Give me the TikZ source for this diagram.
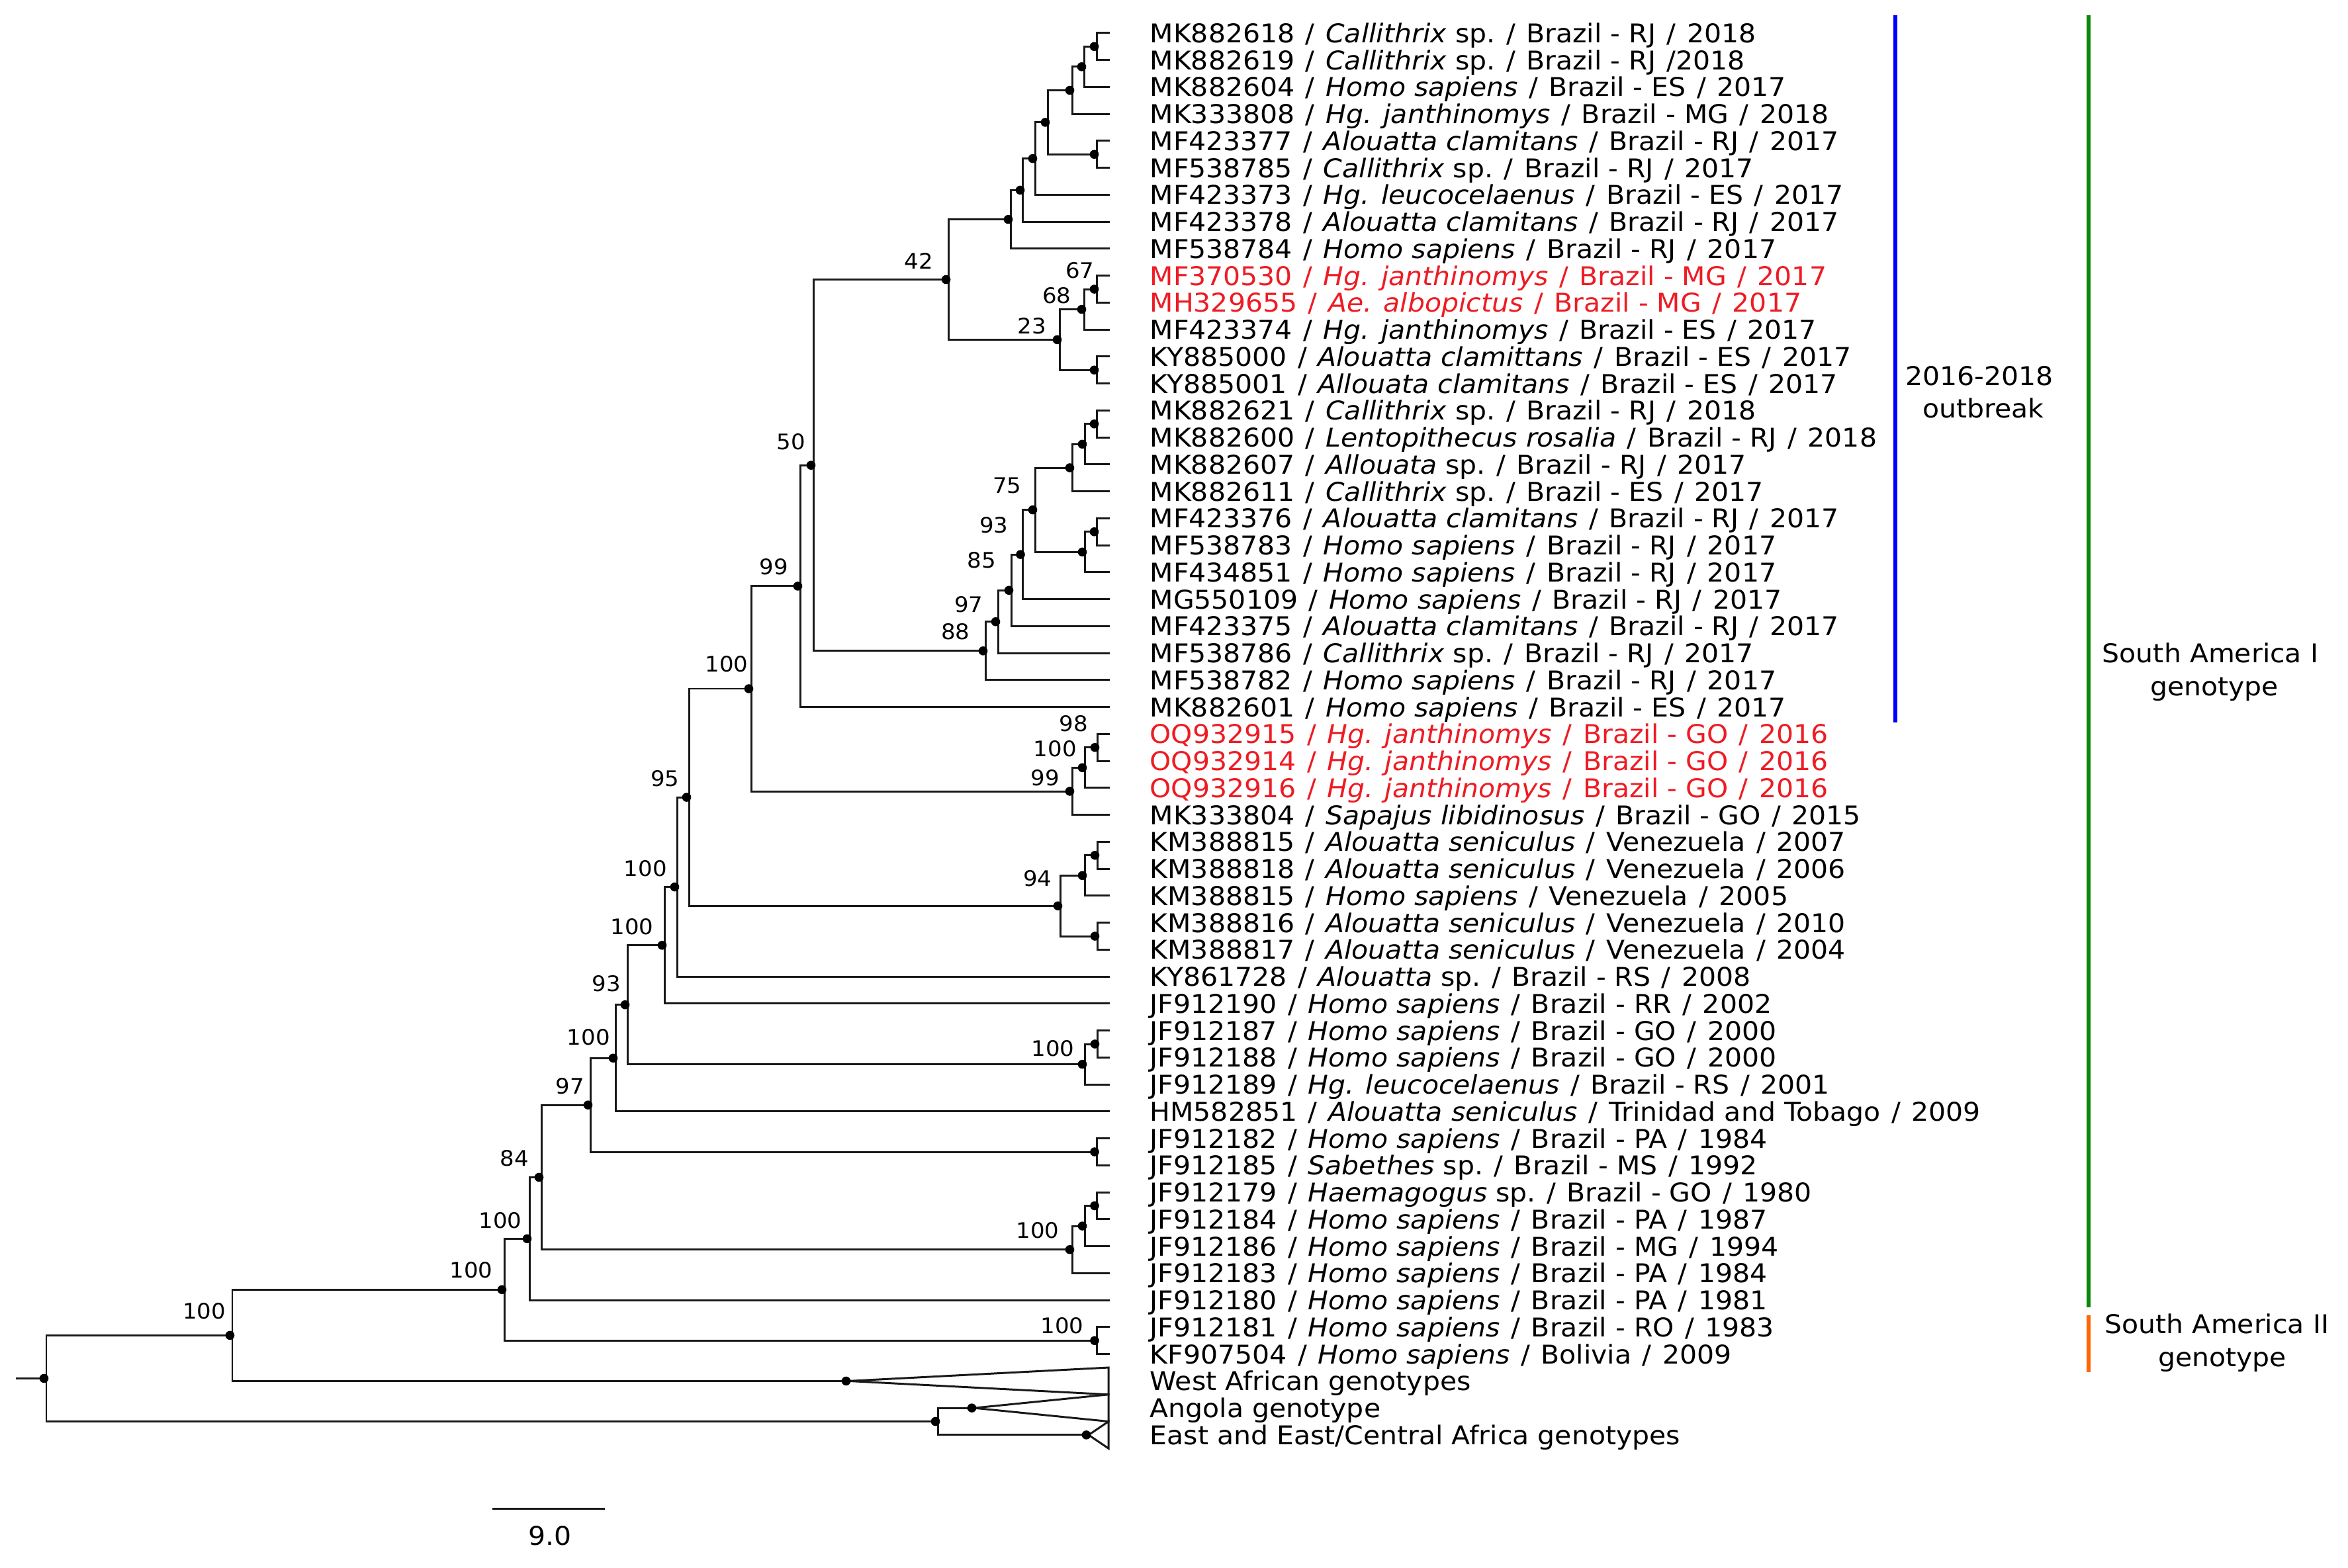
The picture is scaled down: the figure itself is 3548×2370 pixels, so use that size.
\documentclass[tikz,border=0pt]{standalone}
\usepackage{fontspec}
\setmainfont{DejaVu Sans}[FakeStretch=1.05]
\definecolor{ylred}{RGB}{237,28,36}
\definecolor{ylblue}{RGB}{0,0,255}
\definecolor{ylgreen}{RGB}{10,135,10}
\definecolor{ylorange}{RGB}{255,102,0}
\newcommand\leaffont{\fontsize{11.1pt}{13pt}\selectfont}
\newcommand\bootfont{\fontsize{9.2pt}{11pt}\selectfont}
\newcommand\ysep{\hspace{4.7pt}/\hspace{4.7pt}}
\tikzset{
  branch/.style={line width=0.85pt, black!90, line cap=rect},
  leaf/.style={anchor=base west, font=\leaffont, inner sep=0pt},
  boot/.style={anchor=center, font=\bootfont, inner sep=0pt},
  anno/.style={anchor=base, font=\leaffont, inner sep=0pt},
  redtxt/.style={text=ylred},
  cladebar/.style={line width=1.5pt}
}
\newcommand\tleaf[3][]{%
  \coordinate (t#2) at (1675,{50+(#2-1)*40.8});
  \node[leaf,#1] (L#2) at (1737,{64.5+(#2-1)*40.8}) {#3};}
\newcommand\tedge[2]{\draw[branch] (#1) |- (#2);}
\begin{document}
\begin{tikzpicture}[x=0.01cm,y=-0.01cm]
\useasboundingbox (0,0) rectangle (3548,2370);
\begin{scope}[yscale=0.998775]
% leaves
\tleaf{1}{MK882618\ysep\textit{Callithrix} sp.\ysep Brazil - RJ\ysep 2018}
\tleaf{2}{MK882619\ysep\textit{Callithrix} sp.\ysep Brazil - RJ\hspace{4.7pt}/2018}
\tleaf{3}{MK882604\ysep\textit{Homo sapiens}\ysep Brazil - ES\ysep 2017}
\tleaf{4}{MK333808\ysep\textit{Hg. janthinomys}\ysep Brazil - MG\ysep 2018}
\tleaf{5}{MF423377\ysep\textit{Alouatta clamitans}\ysep Brazil - RJ\ysep 2017}
\tleaf{6}{MF538785\ysep\textit{Callithrix} sp.\ysep Brazil - RJ\ysep 2017}
\tleaf{7}{MF423373\ysep\textit{Hg. leucocelaenus}\ysep Brazil - ES\ysep 2017}
\tleaf{8}{MF423378\ysep\textit{Alouatta clamitans}\ysep Brazil - RJ\ysep 2017}
\tleaf{9}{MF538784\ysep\textit{Homo sapiens}\ysep Brazil - RJ\ysep 2017}
\tleaf[redtxt]{10}{MF370530\ysep\textit{Hg. janthinomys}\ysep Brazil - MG\ysep 2017}
\tleaf[redtxt]{11}{MH329655\ysep\textit{Ae. albopictus}\ysep Brazil - MG\ysep 2017}
\tleaf{12}{MF423374\ysep\textit{Hg. janthinomys}\ysep Brazil - ES\ysep 2017}
\tleaf{13}{KY885000\ysep\textit{Alouatta clamittans}\ysep Brazil - ES\ysep 2017}
\tleaf{14}{KY885001\ysep\textit{Allouata clamitans}\ysep Brazil - ES\ysep 2017}
\tleaf{15}{MK882621\ysep\textit{Callithrix} sp.\ysep Brazil - RJ\ysep 2018}
\tleaf{16}{MK882600\ysep\textit{Lentopithecus rosalia}\ysep Brazil - RJ\ysep 2018}
\tleaf{17}{MK882607\ysep\textit{Allouata} sp.\ysep Brazil - RJ\ysep 2017}
\tleaf{18}{MK882611\ysep\textit{Callithrix} sp.\ysep Brazil - ES\ysep 2017}
\tleaf{19}{MF423376\ysep\textit{Alouatta clamitans}\ysep Brazil - RJ\ysep 2017}
\tleaf{20}{MF538783\ysep\textit{Homo sapiens}\ysep Brazil - RJ\ysep 2017}
\tleaf{21}{MF434851\ysep\textit{Homo sapiens}\ysep Brazil - RJ\ysep 2017}
\tleaf{22}{MG550109\ysep\textit{Homo sapiens}\ysep Brazil - RJ\ysep 2017}
\tleaf{23}{MF423375\ysep\textit{Alouatta clamitans}\ysep Brazil - RJ\ysep 2017}
\tleaf{24}{MF538786\ysep\textit{Callithrix} sp.\ysep Brazil - RJ\ysep 2017}
\tleaf{25}{MF538782\ysep\textit{Homo sapiens}\ysep Brazil - RJ\ysep 2017}
\tleaf{26}{MK882601\ysep\textit{Homo sapiens}\ysep Brazil - ES\ysep 2017}
\tleaf[redtxt]{27}{OQ932915\ysep\textit{Hg. janthinomys}\ysep Brazil - GO\ysep 2016}
\tleaf[redtxt]{28}{OQ932914\ysep\textit{Hg. janthinomys}\ysep Brazil - GO\ysep 2016}
\tleaf[redtxt]{29}{OQ932916\ysep\textit{Hg. janthinomys}\ysep Brazil - GO\ysep 2016}
\tleaf{30}{MK333804\ysep\textit{Sapajus libidinosus}\ysep Brazil - GO\ysep 2015}
\tleaf{31}{KM388815\ysep\textit{Alouatta seniculus}\ysep Venezuela\ysep 2007}
\tleaf{32}{KM388818\ysep\textit{Alouatta seniculus}\ysep Venezuela\ysep 2006}
\tleaf{33}{KM388815\ysep\textit{Homo sapiens}\ysep Venezuela\ysep 2005}
\tleaf{34}{KM388816\ysep\textit{Alouatta seniculus}\ysep Venezuela\ysep 2010}
\tleaf{35}{KM388817\ysep\textit{Alouatta seniculus}\ysep Venezuela\ysep 2004}
\tleaf{36}{KY861728\ysep\textit{Alouatta} sp.\ysep Brazil - RS\ysep 2008}
\tleaf{37}{JF912190\ysep\textit{Homo sapiens}\ysep Brazil - RR\ysep 2002}
\tleaf{38}{JF912187\ysep\textit{Homo sapiens}\ysep Brazil - GO\ysep 2000}
\tleaf{39}{JF912188\ysep\textit{Homo sapiens}\ysep Brazil - GO\ysep 2000}
\tleaf{40}{JF912189\ysep\textit{Hg. leucocelaenus}\ysep Brazil - RS\ysep 2001}
\tleaf{41}{HM582851\ysep\textit{Alouatta seniculus}\ysep Trinidad and Tobago\ysep 2009}
\tleaf{42}{JF912182\ysep\textit{Homo sapiens}\ysep Brazil - PA\ysep 1984}
\tleaf{43}{JF912185\ysep\textit{Sabethes} sp.\ysep Brazil - MS\ysep 1992}
\tleaf{44}{JF912179\ysep\textit{Haemagogus} sp.\ysep Brazil - GO\ysep 1980}
\tleaf{45}{JF912184\ysep\textit{Homo sapiens}\ysep Brazil - PA\ysep 1987}
\tleaf{46}{JF912186\ysep\textit{Homo sapiens}\ysep Brazil - MG\ysep 1994}
\tleaf{47}{JF912183\ysep\textit{Homo sapiens}\ysep Brazil - PA\ysep 1984}
\tleaf{48}{JF912180\ysep\textit{Homo sapiens}\ysep Brazil - PA\ysep 1981}
\tleaf{49}{JF912181\ysep\textit{Homo sapiens}\ysep Brazil - RO\ysep 1983}
\tleaf{50}{KF907504\ysep\textit{Homo sapiens}\ysep Bolivia\ysep 2009}
\tleaf{51}{West African genotypes}
\tleaf{52}{Angola genotype}
\tleaf{53}{East and East/Central Africa genotypes}
% internal nodes
\coordinate (n1x2) at (1657,70.4);
\coordinate (n1x3) at (1638,101.0);
\coordinate (n1x4) at (1620,136.7);
\coordinate (n5x6) at (1657,233.6);
\coordinate (n1x6) at (1583,185.15);
\coordinate (n1x7) at (1564,239.98);
\coordinate (n1x8) at (1545,287.79);
\coordinate (n1x9) at (1527,332.09);
\coordinate (n10x11) at (1657,437.6);
\coordinate (n10x12) at (1638,468.2);
\coordinate (n13x14) at (1657,560.0);
\coordinate (n10x14) at (1601,514.1);
\coordinate (n1x14) at (1433,423.1);
\coordinate (n15x16) at (1657,641.6);
\coordinate (n15x17) at (1639,672.2);
\coordinate (n15x18) at (1620,707.9);
\coordinate (n19x20) at (1657,804.8);
\coordinate (n19x21) at (1639,835.4);
\coordinate (n15x21) at (1564,771.65);
\coordinate (n15x22) at (1545.5,839.2);
\coordinate (n15x23) at (1528,893.4);
\coordinate (n15x24) at (1508,940.9);
\coordinate (n15x25) at (1489,985.05);
\coordinate (n1x25) at (1229,704.1);
\coordinate (n1x26) at (1209,887.05);
\coordinate (n27x28) at (1658,1131.2);
\coordinate (n27x29) at (1639,1161.8);
\coordinate (n27x30) at (1620,1197.5);
\coordinate (n1x30) at (1135,1042.3);
\coordinate (n31x32) at (1658,1294.4);
\coordinate (n31x33) at (1639,1325.0);
\coordinate (n34x35) at (1658,1416.8);
\coordinate (n31x35) at (1602,1370.9);
\coordinate (n1x35) at (1041,1206.6);
\coordinate (n1x36) at (1023,1342.3);
\coordinate (n1x37) at (1004,1430.55);
\coordinate (n38x39) at (1658,1580.0);
\coordinate (n38x40) at (1639,1610.6);
\coordinate (n1x40) at (948,1520.6);
\coordinate (n1x41) at (930,1601.3);
\coordinate (n42x43) at (1657.5,1743.2);
\coordinate (n1x43) at (892,1672.25);
\coordinate (n44x45) at (1657.5,1824.8);
\coordinate (n44x46) at (1639,1855.4);
\coordinate (n44x47) at (1620,1891.1);
\coordinate (n1x47) at (818,1781.7);
\coordinate (n1x48) at (800,1874.65);
\coordinate (n49x50) at (1657.5,2028.8);
\coordinate (n1x50) at (762,1951.7);
\coordinate (nwest) at (1282,2090);
\coordinate (n1x51) at (351,2020.9);
\coordinate (nang) at (1472,2130.8);
\coordinate (neast) at (1645,2171.6);
\coordinate (nafr) at (1417,2151.2);
\coordinate (root) at (70,2086);
\coordinate (stub) at (25,2086);
% collapsed clade corners
\coordinate (c1) at (1675,2069.6);
\coordinate (c2) at (1675,2110.4);
\coordinate (c3) at (1675,2151.2);
\coordinate (c4) at (1675,2192.0);
% edges
\tedge{n1x2}{t1}\tedge{n1x2}{t2}
\tedge{n1x3}{n1x2}\tedge{n1x3}{t3}
\tedge{n1x4}{n1x3}\tedge{n1x4}{t4}
\tedge{n5x6}{t5}\tedge{n5x6}{t6}
\tedge{n1x6}{n1x4}\tedge{n1x6}{n5x6}
\tedge{n1x7}{n1x6}\tedge{n1x7}{t7}
\tedge{n1x8}{n1x7}\tedge{n1x8}{t8}
\tedge{n1x9}{n1x8}\tedge{n1x9}{t9}
\tedge{n10x11}{t10}\tedge{n10x11}{t11}
\tedge{n10x12}{n10x11}\tedge{n10x12}{t12}
\tedge{n13x14}{t13}\tedge{n13x14}{t14}
\tedge{n10x14}{n10x12}\tedge{n10x14}{n13x14}
\tedge{n1x14}{n1x9}\tedge{n1x14}{n10x14}
\tedge{n15x16}{t15}\tedge{n15x16}{t16}
\tedge{n15x17}{n15x16}\tedge{n15x17}{t17}
\tedge{n15x18}{n15x17}\tedge{n15x18}{t18}
\tedge{n19x20}{t19}\tedge{n19x20}{t20}
\tedge{n19x21}{n19x20}\tedge{n19x21}{t21}
\tedge{n15x21}{n15x18}\tedge{n15x21}{n19x21}
\tedge{n15x22}{n15x21}\tedge{n15x22}{t22}
\tedge{n15x23}{n15x22}\tedge{n15x23}{t23}
\tedge{n15x24}{n15x23}\tedge{n15x24}{t24}
\tedge{n15x25}{n15x24}\tedge{n15x25}{t25}
\tedge{n1x25}{n1x14}\tedge{n1x25}{n15x25}
\tedge{n1x26}{n1x25}\tedge{n1x26}{t26}
\tedge{n27x28}{t27}\tedge{n27x28}{t28}
\tedge{n27x29}{n27x28}\tedge{n27x29}{t29}
\tedge{n27x30}{n27x29}\tedge{n27x30}{t30}
\tedge{n1x30}{n1x26}\tedge{n1x30}{n27x30}
\tedge{n31x32}{t31}\tedge{n31x32}{t32}
\tedge{n31x33}{n31x32}\tedge{n31x33}{t33}
\tedge{n34x35}{t34}\tedge{n34x35}{t35}
\tedge{n31x35}{n31x33}\tedge{n31x35}{n34x35}
\tedge{n1x35}{n1x30}\tedge{n1x35}{n31x35}
\tedge{n1x36}{n1x35}\tedge{n1x36}{t36}
\tedge{n1x37}{n1x36}\tedge{n1x37}{t37}
\tedge{n38x39}{t38}\tedge{n38x39}{t39}
\tedge{n38x40}{n38x39}\tedge{n38x40}{t40}
\tedge{n1x40}{n1x37}\tedge{n1x40}{n38x40}
\tedge{n1x41}{n1x40}\tedge{n1x41}{t41}
\tedge{n42x43}{t42}\tedge{n42x43}{t43}
\tedge{n1x43}{n1x41}\tedge{n1x43}{n42x43}
\tedge{n44x45}{t44}\tedge{n44x45}{t45}
\tedge{n44x46}{n44x45}\tedge{n44x46}{t46}
\tedge{n44x47}{n44x46}\tedge{n44x47}{t47}
\tedge{n1x47}{n1x43}\tedge{n1x47}{n44x47}
\tedge{n1x48}{n1x47}\tedge{n1x48}{t48}
\tedge{n49x50}{t49}\tedge{n49x50}{t50}
\tedge{n1x50}{n1x48}\tedge{n1x50}{n49x50}
\tedge{n1x51}{n1x50}\tedge{n1x51}{nwest}
\tedge{nafr}{nang}\tedge{nafr}{neast}
\tedge{root}{n1x51}\tedge{root}{nafr}
\draw[branch] (stub) -- (root);
% collapsed triangles
\draw[branch, line join=miter] (nwest) -- (c1) -- (c2) -- cycle;
\draw[branch, line join=miter] (nang) -- (c2) -- (c3) -- cycle;
\draw[branch, line join=miter] (neast) -- (c3) -- (c4) -- cycle;
% node dots
\foreach \n in {n1x2,n1x3,n1x4,n5x6,n1x6,n1x7,n1x8,n1x9,n10x11,n10x12,n13x14,n10x14,n1x14,
  n15x16,n15x17,n15x18,n19x20,n19x21,n15x21,n15x22,n15x23,n15x24,n15x25,n1x25,n1x26,
  n27x28,n27x29,n27x30,n1x30,n31x32,n31x33,n34x35,n31x35,n1x35,n1x36,n1x37,n38x39,n38x40,
  n1x40,n1x41,n42x43,n1x43,n44x45,n44x46,n44x47,n1x47,n1x48,n49x50,n1x50,nwest,n1x51,
  nang,neast,nafr,root}
  \fill ([xshift=-0.035cm]\n) circle (0.068cm);
\end{scope}
% bootstrap values
\node[boot] (b42) at (1388,394.6) {42};
\node[boot] (b67) at (1631.7,409) {67};
\node[boot] (b68) at (1596.7,446.4) {68};
\node[boot] (b23) at (1559.3,492.9) {23};
\node[boot] (b50) at (1195,667.3) {50};
\node[boot] (b99a) at (1169,856.8) {99};
\node[boot] (b75) at (1521.9,734.3) {75};
\node[boot] (b93a) at (1501.8,793.6) {93};
\node[boot] (b85) at (1483,847.2) {85};
\node[boot] (b97a) at (1463.8,914.2) {97};
\node[boot] (b88) at (1443.75,954.4) {88};
\node[boot] (b100a) at (1098,1004) {100};
\node[boot] (b98) at (1622.4,1093.4) {98};
\node[boot] (b100b) at (1594.4,1131.7) {100};
\node[boot] (b99b) at (1579,1175.7) {99};
\node[boot] (b95) at (1004.7,1176.7) {95};
\node[boot] (b100c) at (975.3,1312.4) {100};
\node[boot] (b94) at (1567.9,1328) {94};
\node[boot] (b100d) at (955,1400.7) {100};
\node[boot] (b100e) at (1590.8,1584.4) {100};
\node[boot] (b93b) at (916.4,1486.7) {93};
\node[boot] (b100f) at (889.3,1568) {100};
\node[boot] (b97b) at (861.3,1642.1) {97};
\node[boot] (b84) at (777.2,1751.2) {84};
\node[boot] (b100g) at (756.1,1844.9) {100};
\node[boot] (b100h) at (1567.8,1860.2) {100};
\node[boot] (b100i) at (712,1920) {100};
\node[boot] (b100j) at (1605,2004) {100};
\node[boot] (b100k) at (308.7,1981.8) {100};
% scale bar
\coordinate (sbL) at (745,2280);
\coordinate (sbR) at (912,2280);
\draw[branch] (sbL) -- (sbR);
\node[boot, font=\leaffont] (sblab) at (831,2321) {9.0};
% clade bars
\coordinate (bluetop) at (2864,23);
\coordinate (bluebot) at (2864,1092);
\coordinate (greentop) at (3156,23);
\coordinate (greenbot) at (3156,1976);
\coordinate (orangetop) at (3156,1988);
\coordinate (orangebot) at (3156,2074);
\draw[cladebar, ylblue] (bluetop) -- (bluebot);
\draw[cladebar, ylgreen] (greentop) -- (greenbot);
\draw[cladebar, ylorange] (orangetop) -- (orangebot);
\node[anno] (ob1) at (2991,582.6) {2016-2018};
\node[anno] (ob2) at (2997,631.7) {outbreak};
\node[anno] (sa1) at (3340,1001.7) {South America I};
\node[anno] (sa2) at (3346,1051.7) {genotype};
\node[anno] (sb1) at (3350,2015) {South America II};
\node[anno] (sb2) at (3358,2065) {genotype};
\end{tikzpicture}
\end{document}
